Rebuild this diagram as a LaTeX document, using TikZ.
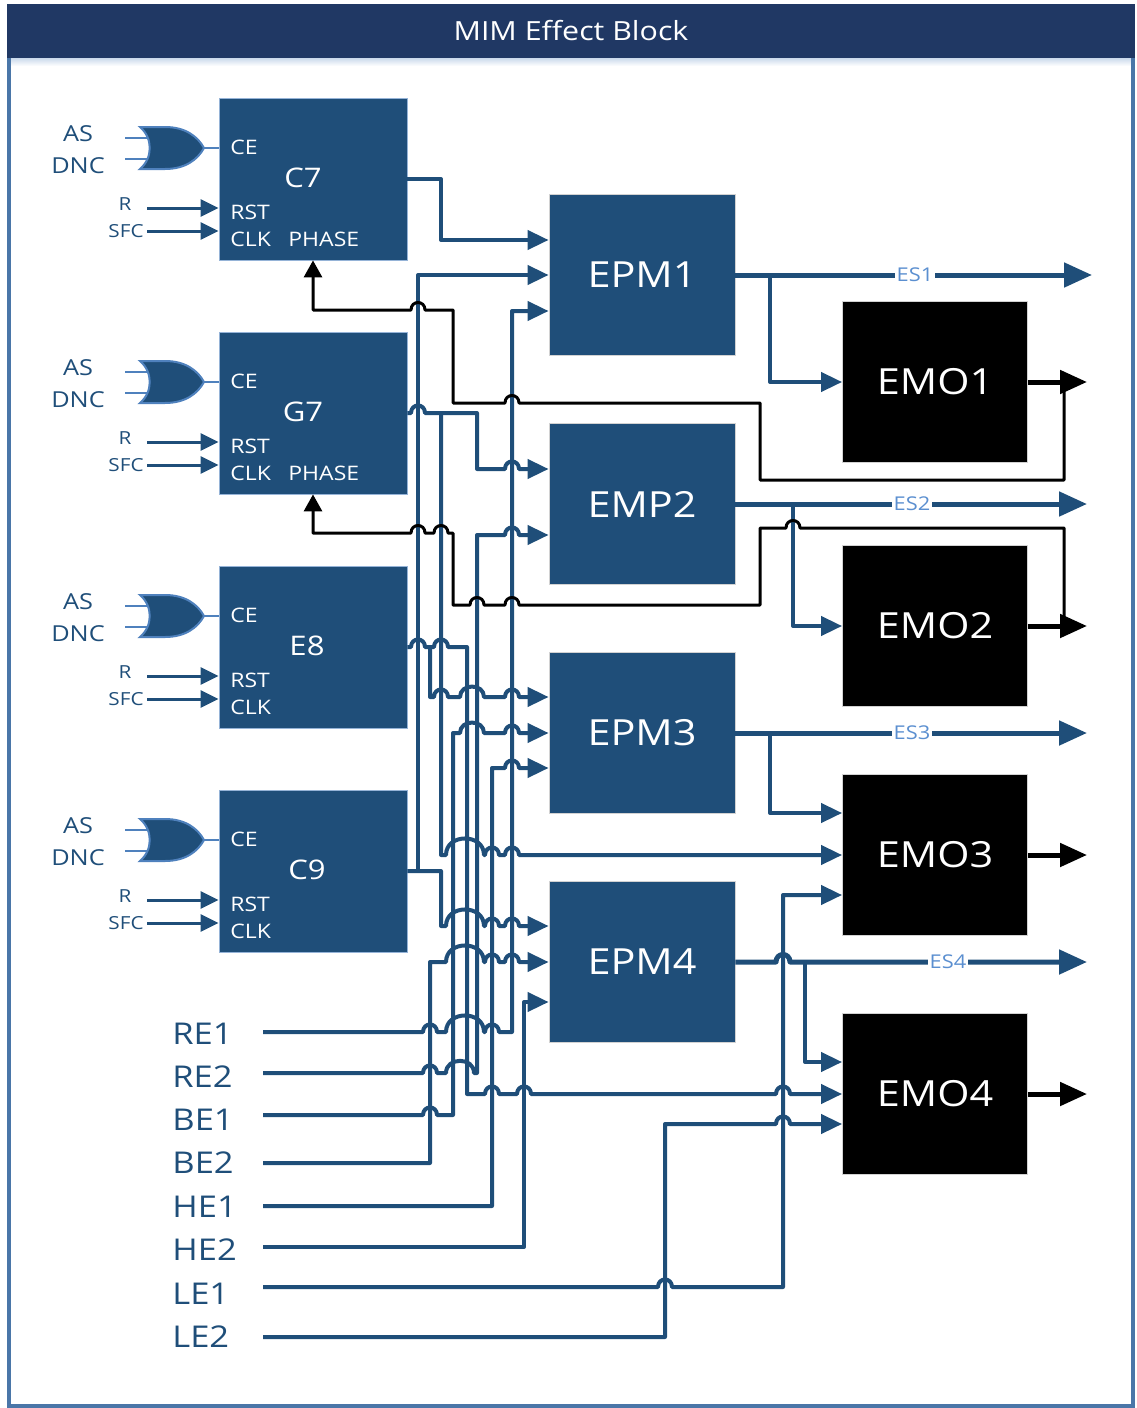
\documentclass[tikz,border=0pt]{standalone}
\usepackage{fontspec}
\setmainfont{Open Sans}[FakeStretch=1.15]
\usetikzlibrary{arrows.meta}

\definecolor{wblue}{HTML}{1F4E79}
\definecolor{navy}{HTML}{203864}
\definecolor{frameblue}{HTML}{4A76A8}
\definecolor{gblue}{HTML}{4F81BD}
\definecolor{eslbl}{HTML}{5B8FD0}

% line jumps over a vertical wire
\newcommand{\hop}[2]{-- (#1-7,#2) .. controls (#1-7,#2-10) and (#1+7,#2-10) .. (#1+7,#2)}
\newcommand{\bighop}[3]{-- (#1,#3) .. controls (#1,{#3-0.58*(#2-#1)}) and (#2,{#3-0.58*(#2-#1)}) .. (#2,#3)}

\begin{document}
\begin{tikzpicture}[x=0.5pt, y=-0.5pt,
  wire/.style={draw=wblue, line width=2pt, line join=round},
  warr/.style={wire, -{Triangle[length=10.5pt,width=9.5pt]}},
  esline/.style={wire, line width=2.5pt, -{Triangle[length=14pt,width=12pt]}},
  sarr/.style={draw=wblue, line width=1.5pt, -{Triangle[length=9pt,width=8.5pt]}},
  gline/.style={draw=gblue, line width=1pt},
  gate/.style={fill=wblue, draw=gblue, line width=1pt},
  fback/.style={draw=black, line width=1.5pt, line join=round},
  mout/.style={draw=black, line width=2.5pt, -{Triangle[length=13.5pt,width=11.5pt]}},
  lblock/.style={fill=wblue, draw=gblue!60, minimum width=94pt, minimum height=81pt, inner sep=0pt},
  eblock/.style={fill=wblue, draw=gray!35, minimum width=93pt, minimum height=80.5pt, inner sep=0pt,
    text=white, font=\fontsize{18}{20}\selectfont},
  oblock/.style={fill=black, draw=gray!35, minimum width=92.5pt, minimum height=80.5pt, inner sep=0pt,
    text=white, font=\fontsize{18}{20}\selectfont},
  bname/.style={text=white, inner sep=0pt, font=\fontsize{13.5}{15}\selectfont},
  pintext/.style={text=white, anchor=west, inner sep=0pt, font=\fontsize{10}{12}\selectfont},
  olbl/.style={text=wblue, inner sep=0pt, font=\fontsize{11}{13}\selectfont},
  slbl/.style={text=wblue, inner sep=0pt, font=\fontsize{9}{11}\selectfont},
  inlabel/.style={text=wblue, anchor=west, inner sep=0pt, font=\fontsize{15}{18}\selectfont},
  eslabel/.style={text=eslbl, fill=white, inner sep=1pt, font=\fontsize{9.5}{11}\selectfont}]

\useasboundingbox (0,0) rectangle (1136,1408);

% -------- Frame and title -----------
\fill[navy] (7,4) rectangle (1135,58);
\shade[top color=gblue!30, bottom color=white] (11,58) rectangle (1131,66);
\draw[frameblue, line width=2pt] (9,58) -- (9,1406) -- (1133,1406) -- (1133,58);
\node[text=white, font=\fontsize{13.2}{15}\selectfont] (ttl) at (571,31) {MIM Effect Block};

% -------- Counter blocks with OR gates -----------
\foreach \t/\b/\nm/\nx in {98/c7/C7/303, 332/g7/G7/303, 566/e8/E8/307, 790/c9/C9/307}{
  \node[lblock] (\b) at (313,\t+81) {};
  \node[bname] at (\nx,\t+80) {\nm};
  \node[pintext] at (230,\t+49) {CE};
  \node[pintext] at (230,\t+114) {RST};
  \node[pintext] at (230,\t+141) {CLK};
  \draw[gline] (125,\t+40) -- (150,\t+40);
  \draw[gline] (125,\t+61) -- (150,\t+61);
  \draw[gate] (140,\t+29) -- (165,\t+29) .. controls (186,\t+29) and (198,\t+39) .. (204,\t+50)
    .. controls (198,\t+61) and (186,\t+71) .. (165,\t+71) -- (140,\t+71)
    .. controls (153,\t+60) and (153,\t+40) .. (140,\t+29) -- cycle;
  \coordinate (\b-or) at (204,\t+50);
  \draw[gline] (\b-or) -- (\b.west |- \b-or);
  \node[olbl] at (78,\t+36) {AS};
  \node[olbl] at (78,\t+68) {DNC};
  \node[slbl] at (125,\t+106) {R};
  \node[slbl, anchor=east] (\b-sfc) at (144,\t+133) {SFC};
  \coordinate (\b-r) at (147,\t+110);
  \coordinate (\b-s) at (147,\t+133);
  \draw[sarr] (\b-r) -- (\b.west |- \b-r);
  \draw[sarr] (\b-s) -- (\b.west |- \b-s);
}
\node[pintext] at (288,239) {PHASE};
\node[pintext] at (288,473) {PHASE};

% -------- EPM and EMO blocks -----------
\node[eblock] (epm1) at (642,275) {EPM1};
\node[eblock] (emp2) at (642,504) {EMP2};
\node[eblock] (epm3) at (642,733) {EPM3};
\node[eblock] (epm4) at (642,962) {EPM4};
\node[oblock] (emo1) at (935,382) {EMO1};
\node[oblock] (emo2) at (935,626) {EMO2};
\node[oblock] (emo3) at (935,855) {EMO3};
\node[oblock] (emo4) at (935,1094) {EMO4};

% -------- Input labels -----------
\foreach \nm/\y/\ly in {RE1/1032/1034, RE2/1073/1077, BE1/1115/1120, BE2/1163/1163,
                        HE1/1206/1207, HE2/1247/1250, LE1/1287/1294, LE2/1337/1337}{
  \node[inlabel] (\nm) at (172,\ly) {\nm};
  \coordinate (\nm-w) at (263,\y);
}

% -------- Counter outputs -----------
\coordinate (c9j) at (418,871);
\coordinate (g7j) at (441,413);
\coordinate (e8j) at (430,647);
\draw[warr] (c7.east) -| (441,240) -- (epm1.west |- 0,240);
\draw[warr] (c9j) |- (epm1.west |- 0,275);
\draw[warr] (c9.east) -| (441,926) \bighop{446}{484}{926} \hop{492}{926} \hop{512}{926} -- (epm4.west |- 0,926);
\draw[warr] (g7.east) \hop{418}{413} -- (477,413) -- (477,469) \hop{512}{469} -- (emp2.west |- 0,469);
\draw[warr] (g7j) -- (441,855) \bighop{446}{484}{855} \hop{492}{855} \hop{512}{855} -- (emo3.west);
\draw[warr] (e8.east) \hop{418}{647} \hop{441}{647} -- (467,647) -- (467,1094) \hop{492}{1094} \hop{524}{1094} \hop{783}{1094} -- (emo4.west);
\draw[warr] (e8j) -- (430,697) \hop{441}{697} \bighop{460}{484}{697} \hop{512}{697} -- (epm3.west |- 0,697);

% -------- External inputs -----------
\draw[warr] (RE1-w) \hop{430}{1032} \bighop{446}{484}{1032} \hop{492}{1032} -- (512,1032) -- (512,311) -- (epm1.west |- 0,311);
\draw[warr] (RE2-w) \hop{430}{1073} \bighop{446}{474}{1073} -- (477,1073) -- (477,535) \hop{512}{535} -- (emp2.west |- 0,535);
\draw[warr] (BE1-w) \hop{430}{1115} -- (453,1115) -- (453,733) \bighop{460}{484}{733} \hop{512}{733} -- (epm3.west);
\draw[warr] (BE2-w) -- (430,1163) -- (430,962) \bighop{446}{484}{962} \hop{492}{962} \hop{512}{962} -- (epm4.west);
\draw[warr] (HE1-w) -- (492,1206) -- (492,768) \hop{512}{768} -- (epm3.west |- 0,768);
\draw[warr] (HE2-w) -- (524,1247) -- (524,1002) -- (epm4.west |- 0,1002);
\draw[warr] (LE1-w) \hop{665}{1287} -- (783,1287) -- (783,895) -- (emo3.west |- 0,895);
\draw[warr] (LE2-w) -- (665,1337) -- (665,1124) \hop{783}{1124} -- (emo4.west |- 0,1124);

% -------- ES outputs -----------
\coordinate (es1) at (1092,275);
\coordinate (es2) at (1087,504);
\coordinate (es3) at (1087,733);
\coordinate (es4) at (1087,962);
\draw[esline] (epm1.east) -- (es1);
\draw[esline] (emp2.east) -- (es2);
\draw[esline] (epm3.east) -- (es3);
\draw[esline] (epm4.east) \hop{783}{962} -- (es4);
\draw[warr] (770,275) |- (emo1.west);
\draw[warr] (793,504) |- (emo2.west);
\draw[warr] (770,733) |- (emo3.west |- 0,813);
\draw[warr] (805,962) |- (emo4.west |- 0,1062);
\node[eslabel] at (915,275) {ES1};
\node[eslabel] at (912,504) {ES2};
\node[eslabel] at (912,733) {ES3};
\node[eslabel] at (948,962) {ES4};

% -------- EMO outputs and phase feedback -----------
\draw[mout] (emo1.east) -- (1087,382);
\draw[mout] (emo2.east) -- (1087,626);
\draw[mout] (emo3.east) -- (1087,855);
\draw[mout] (emo4.east) -- (1087,1094);
\coordinate (fb1) at (1064,382);
\coordinate (fb2) at (1064,626);
\draw[fback, {Triangle[length=8.5pt,width=9pt]}-] (c7.south) -- (313,310) \hop{418}{310} -- (453,310) -- (453,403)
  \hop{512}{403} -- (760,403) -- (760,480) -- (1064,480) -- (fb1);
\draw[fback, {Triangle[length=8.5pt,width=9pt]}-] (g7.south) -- (313,533) \hop{418}{533} \hop{441}{533} -- (453,533)
  -- (453,605) \hop{477}{605} \hop{512}{605} -- (760,605) -- (760,528) \hop{793}{528} -- (1064,528) -- (fb2);
\end{tikzpicture}
\end{document}
